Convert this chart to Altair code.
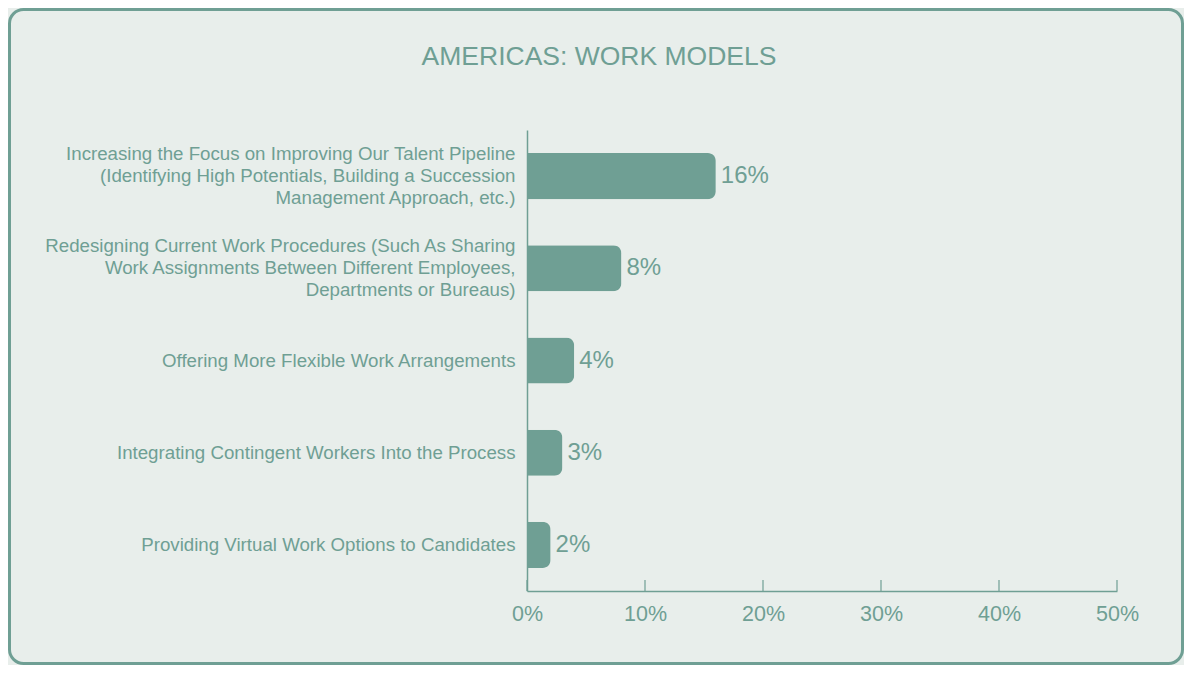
import altair as alt
import pandas as pd

categories = [
    "Increasing the Focus on Improving Our Talent Pipeline|(Identifying High Potentials, Building a Succession|Management Approach, etc.)",
    "Redesigning Current Work Procedures (Such As Sharing|Work Assignments Between Different Employees,|Departments or Bureaus)",
    "Offering More Flexible Work Arrangements",
    "Integrating Contingent Workers Into the Process",
    "Providing Virtual Work Options to Candidates",
]
values = [16, 8, 4, 3, 2]
value_labels = ["16%", "8%", "4%", "3%", "2%"]
x_ticks = [0, 10, 20, 30, 40, 50]
title_text = "AMERICAS: WORK MODELS"

GREEN = "#6f9f94"
BG = "#e8eeeb"
FONT = "Liberation Sans"

W, H = 590, 461
PAD_L, PAD_T, PAD_R, PAD_B = 519, 122, 67, 74

df = pd.DataFrame({"cat": categories, "val": values, "lab": value_labels})

y_enc = alt.Y(
    "cat:N",
    sort=categories,
    scale=alt.Scale(paddingInner=0.5, paddingOuter=0.25),
    axis=alt.Axis(
        title=None,
        ticks=False,
        domain=True,
        domainColor=GREEN,
        domainWidth=1.5,
        labelExpr="split(datum.label, '|')",
        labelColor=GREEN,
        labelFont=FONT,
        labelFontSize=18.7,
        labelLineHeight=22,
        labelPadding=12,
        labelLimit=600,
        labelOffset={"condition": {"test": "indexof(datum.value, '|') >= 0", "value": -22}, "value": 0},
    ),
)
x_scale = alt.Scale(domain=[0, 50], nice=False)

bars = alt.Chart(df).mark_bar(color=GREEN, cornerRadiusEnd=8).encode(
    x=alt.X(
        "val:Q",
        scale=x_scale,
        axis=alt.Axis(
            title=None,
            values=x_ticks,
            labelExpr="datum.value + '%'",
            ticks=False,
            grid=False,
            domain=True,
            domainColor=GREEN,
            domainWidth=1.5,
            labelColor=GREEN,
            labelFont=FONT,
            labelFontSize=21.5,
            labelPadding=12,
            labelFlush=False,
            labelOverlap=False,
        ),
    ),
    y=y_enc,
)

texts = alt.Chart(df).mark_text(
    align="left", baseline="middle", dx=5, color=GREEN, font=FONT, fontSize=24
).encode(x=alt.X("val:Q", scale=x_scale), y=alt.Y("cat:N", sort=categories), text="lab:N")

tick_df = pd.DataFrame({"t": x_ticks})
ticks = alt.Chart(tick_df).mark_rule(color=GREEN, strokeWidth=1.2).encode(
    x=alt.X("t:Q", scale=x_scale),
    y=alt.value(H - 11),
    y2=alt.value(H),
)

title_df = pd.DataFrame({"t": [title_text]})
title = alt.Chart(title_df).mark_text(
    align="center", baseline="middle", color=GREEN, font=FONT, fontSize=26.5
).encode(x=alt.value(599 - 527), y=alt.value(57 - 130), text="t:N")

border = alt.Chart(pd.DataFrame({"b": [1]})).mark_rect(
    fill=None, stroke=GREEN, strokeWidth=3, cornerRadius=14
).encode(
    x=alt.value(-PAD_L + 1.5),
    x2=alt.value(W + PAD_R - 1.5),
    y=alt.value(-PAD_T + 1.5),
    y2=alt.value(H + PAD_B - 1.5),
)

chart = (
    alt.layer(border, bars, texts, ticks, title)
    .resolve_scale(y="shared", x="shared")
    .properties(
        width=W,
        height=H,
        autosize=alt.AutoSizeParams(type="none"),
        padding={"left": PAD_L, "top": PAD_T, "right": PAD_R, "bottom": PAD_B},
        background=BG,
    )
    .configure_view(stroke=None)
)

chart.save("out.html", embed_options={"renderer": "svg", "actions": False})
